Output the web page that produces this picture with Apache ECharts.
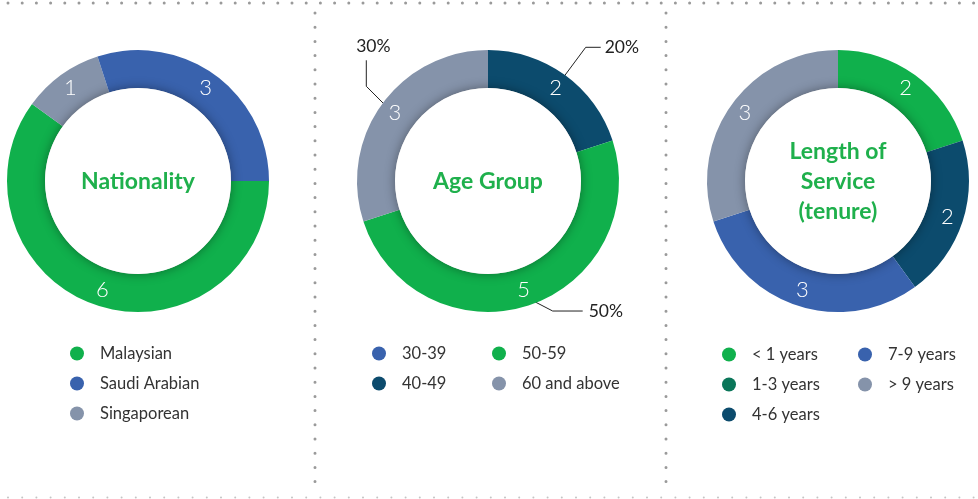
<!DOCTYPE html>
<html>
<head>
<meta charset="utf-8">
<script src="https://cdn.jsdelivr.net/npm/echarts@6/dist/echarts.min.js"></script>
<style>
  html, body { margin: 0; padding: 0; background: #fff; }
  #chart { width: 978px; height: 499px; }
</style>
</head>
<body>
<div id="chart"></div>
<script>
// ---- Board composition data ----
const nationalityNames = ['Malaysian', 'Saudi Arabian', 'Singaporean'];
const nationalityValues = [6, 3, 1];

const ageNames = ['30-39', '40-49', '50-59', '60 and above'];
const ageValues = [0, 2, 5, 3];

const tenureNames = ['< 1 years', '1-3 years', '4-6 years', '7-9 years', '> 9 years'];
const tenureValues = [2, 0, 2, 3, 3];

const chartTitles = ['Nationality', 'Age Group', 'Length of\nService\n(tenure)'];

// ---- Palette ----
const COLORS = {
  'Malaysian': '#10b04c',
  'Saudi Arabian': '#3962ad',
  'Singaporean': '#8593aa',
  '30-39': '#3962ad',
  '40-49': '#0c4b6d',
  '50-59': '#10b04c',
  '60 and above': '#8593aa',
  '< 1 years': '#10b04c',
  '1-3 years': '#0a7659',
  '4-6 years': '#0c4b6d',
  '7-9 years': '#3962ad',
  '> 9 years': '#8593aa'
};
const TITLE_GREEN = '#1fb04c';
const FONT = 'Lato, "Open Sans", sans-serif';

// ---- Layout ----
const centers = [[138, 181], [488, 181], [838, 181]];
const R_IN = 93, R_OUT = 131;

// Draw order of sectors (clockwise) for each donut
const nationalityOrder = ['Malaysian', 'Singaporean', 'Saudi Arabian'];
const ageOrder = ['40-49', '50-59', '60 and above', '30-39'];
const tenureOrder = ['< 1 years', '1-3 years', '4-6 years', '7-9 years', '> 9 years'];

function items(names, values, order) {
  return order.map(n => ({
    name: n,
    value: values[names.indexOf(n)],
    itemStyle: { color: COLORS[n] }
  }));
}

function ring(center, data, startAngle) {
  return {
    type: 'pie',
    center: center,
    radius: [R_IN, R_OUT],
    startAngle: startAngle,
    clockwise: true,
    silent: true,
    avoidLabelOverlap: false,
    data: data,
    label: {
      show: true,
      position: 'inside',
      color: '#fff',
      fontFamily: FONT,
      fontSize: 22,
      fontWeight: 300,
      formatter: p => (p.value ? String(p.value) : '')
    },
    labelLine: { show: false }
  };
}

// White hub that casts a soft shadow onto the inner edge of the ring
function hub(center) {
  return {
    type: 'pie',
    center: center,
    radius: [0, R_IN],
    silent: true,
    label: { show: false },
    labelLine: { show: false },
    data: [{
      value: 1, name: '',
      itemStyle: { color: '#ffffff', shadowBlur: 11, shadowColor: 'rgba(0,0,0,0.38)' }
    }]
  };
}

// Leader line shapes for the percentage callouts (segment offsets from the slice edge)
const callouts = {
  '40-49': { seg1: [26, -35], seg2: [15, 0], text: [4, 0], align: 'left' },
  '60 and above': { seg1: [-23, -23], seg2: [0, -26], text: [7, -14], align: 'center' },
  '50-59': { seg1: [27, 14], seg2: [30, 0], text: [6, 0], align: 'left' }
};

const ageData = items(ageNames, ageValues, ageOrder);

const percentOverlay = {
  type: 'pie',
  center: centers[1],
  radius: [0, 122],
  startAngle: 90,
  clockwise: true,
  silent: true,
  avoidLabelOverlap: false,
  itemStyle: { color: 'rgba(0,0,0,0)' },
  data: ageData.map(d => ({
    name: d.name,
    value: d.value,
    itemStyle: { color: 'rgba(0,0,0,0)' },
    label: { show: d.value > 0 },
    labelLine: { show: d.value > 0 }
  })),
  label: {
    show: true,
    position: 'outside',
    color: '#222',
    fontFamily: FONT,
    fontSize: 17.5,
    formatter: p => (p.value ? Math.round(p.percent) + '%' : '')
  },
  labelLine: { show: true, length: 20, length2: 15, lineStyle: { color: '#222', width: 1 } },
  labelLayout: function (params) {
    const name = ageOrder[params.dataIndex];
    const c = callouts[name];
    const pts = params.labelLinePoints;
    if (!c || !pts || !pts.length) return {};
    const p0 = pts[0];
    const p1 = [p0[0] + c.seg1[0], p0[1] + c.seg1[1]];
    const p2 = [p1[0] + c.seg2[0], p1[1] + c.seg2[1]];
    return {
      x: p2[0] + c.text[0],
      y: p2[1] + c.text[1],
      align: c.align,
      verticalAlign: 'middle',
      labelLinePoints: [p0, p1, p2]
    };
  }
};

function legend(names, left, top) {
  return {
    orient: 'vertical',
    left: left,
    top: top,
    padding: 0,
    icon: 'circle',
    itemWidth: 14,
    itemHeight: 14,
    itemGap: 13,
    selectedMode: false,
    data: names,
    textStyle: {
      color: '#333',
      fontFamily: FONT,
      fontSize: 16.5,
      lineHeight: 14,
      padding: [0, 0, 0, 11]
    }
  };
}

function dotted(x1, y1, x2, y2, color, w) {
  return {
    type: 'line',
    silent: true,
    z: 100,
    shape: { x1: x1, y1: y1, x2: x2, y2: y2 },
    style: { stroke: color, lineWidth: w, lineDash: [0, 14.2], lineCap: 'round' }
  };
}

function centerTitle(text, center) {
  return {
    type: 'text',
    silent: true,
    z: 100,
    x: center[0],
    y: center[1] + 1,
    style: {
      text: text,
      fill: TITLE_GREEN,
      font: '700 23px ' + FONT,
      lineHeight: 30,
      align: 'center',
      verticalAlign: 'middle'
    }
  };
}

const chart = echarts.init(document.getElementById('chart'), null, { renderer: 'canvas' });

chart.setOption({
  animation: false,
  backgroundColor: '#ffffff',
  legend: [
    legend(nationalityNames, 70, 345),
    legend(['30-39', '40-49'], 372, 345),
    legend(['50-59', '60 and above'], 492, 345),
    legend(['< 1 years', '1-3 years', '4-6 years'], 722, 346),
    legend(['7-9 years', '> 9 years'], 858, 346)
  ],
  series: [
    ring(centers[0], items(nationalityNames, nationalityValues, nationalityOrder), 0),
    ring(centers[1], ageData, 90),
    ring(centers[2], items(tenureNames, tenureValues, tenureOrder), 90),
    hub(centers[0]),
    hub(centers[1]),
    hub(centers[2]),
    percentOverlay
  ],
  graphic: [
    dotted(8, 3, 978, 3, '#9a9a9a', 3),
    dotted(8, 497.5, 978, 497.5, '#c4c4c4', 2),
    dotted(315, 13, 315, 490, '#9a9a9a', 3),
    dotted(666, 13, 666, 490, '#9a9a9a', 3),
    centerTitle(chartTitles[0], centers[0]),
    centerTitle(chartTitles[1], centers[1]),
    centerTitle(chartTitles[2], centers[2])
  ]
});
</script>
</body>
</html>
